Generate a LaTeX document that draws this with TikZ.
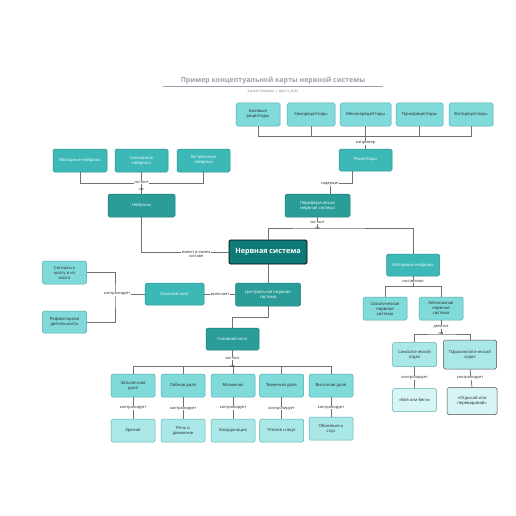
\documentclass[tikz,border=0pt]{standalone}
\usepackage{fontspec}
\setmainfont{Open Sans}
\begin{document}
\begin{tikzpicture}[x=1pt,y=-1pt,
  bx/.style={draw, rounded corners=1.6pt, align=center, inner sep=0.5pt, line width=0.5pt,
     font=\fontsize{4.2}{5}\selectfont},
  dk/.style={bx, fill=cdark, draw=black, text=white, line width=0.9pt, font=\bfseries\fontsize{7.2}{8}\selectfont},
  md2/.style={bx, fill=cmidb, draw=cmidbd, text=white},
  md/.style={bx, fill=cmid, draw=cmidd, text=white},
  lt/.style={bx, fill=clight, draw=clightd, text=black!85},
  pl/.style={bx, fill=cpale, draw=cpaled, text=black!85},
  vp/.style={bx, fill=cvpale, draw=cpaled, text=black!85},
  lbl/.style={fill=white, inner sep=0.4pt, align=center, text=black!85, font=\fontsize{3.9}{4.6}\selectfont},
  lbn/.style={inner sep=0.2pt, text=black!85, font=\fontsize{3.9}{4.6}\selectfont},
  con/.style={draw=linec, line width=0.75pt},
]
\definecolor{cdark}{HTML}{0F7B78}
\definecolor{cmidb}{HTML}{2A9D99}
\definecolor{cmidbd}{HTML}{1E7A77}
\definecolor{cmid}{HTML}{3CB9B7}
\definecolor{cmidd}{HTML}{2A8F8D}
\definecolor{clight}{HTML}{80DADA}
\definecolor{clightd}{HTML}{4CAAAA}
\definecolor{cpale}{HTML}{AAE8E8}
\definecolor{cpaled}{HTML}{5AAFAF}
\definecolor{cvpale}{HTML}{D6F5F5}
\definecolor{linec}{HTML}{707070}
\definecolor{titlec}{HTML}{9CA1AD}

\useasboundingbox (0,0) rectangle (516,516);
\fill[white] (0,0) rectangle (516,516);

% title
\node[font=\bfseries\fontsize{7}{8}\selectfont, text=titlec] (title) at (273,80.5) {Пример концептуальной карты нервной системы};
\draw[titlec, line width=0.6pt] (163,86.5) coordinate (tl) -- (383,86.5) coordinate (tr);
\node[font=\fontsize{3.3}{4}\selectfont, text=black!55] (sub) at (273,91.5) {System Template \ | \ April 3, 2025};

% receptors row
\node[lt, minimum width=44pt, minimum height=23pt] (r1) at (258,114.5) {Болевые\\рецепторы};
\node[lt, minimum width=48pt, minimum height=23pt] (r2) at (311,114.5) {Хеморецепторы};
\node[lt, minimum width=51pt, minimum height=23pt] (r3) at (365.5,114.5) {Механорецепторы};
\node[lt, minimum width=47pt, minimum height=23pt] (r4) at (419.5,114.5) {Терморецепторы};
\node[lt, minimum width=44pt, minimum height=23pt] (r5) at (471,114.5) {Фоторецепторы};
\node[md, minimum width=53pt, minimum height=22pt] (rec) at (365.5,160) {Рецепторы};

\coordinate (rbar) at (365.5,136.5);
\draw[con] (r1.south) |- (rbar);
\draw[con] (r2.south) |- (rbar);
\draw[con] (r4.south) |- (rbar);
\draw[con] (r5.south) |- (rbar);
\draw[con] (r3.south) -- (rec.north);
\node[lbl] (l1) at (365.5,143) {например};

% left neurons row
\node[md, minimum width=54pt, minimum height=23pt] (n1) at (80,160.5) {Моторные нейроны};
\node[md, minimum width=53pt, minimum height=23pt] (n2) at (141.5,160.5) {Сенсорные\\нейроны};
\node[md, minimum width=53pt, minimum height=23pt] (n3) at (203.5,160.5) {Вставочные\\нейроны};
\node[md2, minimum width=67pt, minimum height=23pt] (neur) at (141.5,205.5) {Нейроны};
\coordinate (nbar) at (141.5,183);
\draw[con] (n1.south) |- (nbar);
\draw[con] (n3.south) |- (nbar);
\draw[con] (n2.south) -- (neur.north);
\node[lbl] (l2) at (141.5,182.5) {состоит};
\node[lbn] (l2b) at (141.5,189) {из};

% central node
\node[dk, minimum width=78pt, minimum height=24pt] (ns) at (268,252) {Нервная система};
\draw[con] (neur.south) |- (ns.west);
\node[lbl] (l3) at (196,254.5) {имеют в своем\\составе};

% peripheral
\node[md2, minimum width=65pt, minimum height=23pt] (per) at (317.5,205.5) {Периферическая\\нервная система};
\coordinate (pc1) at (352,171);
\coordinate (pc2) at (330,183);
\draw[con] (pc1) |- (pc2) -- (per.north -| pc2);
\node[lbl] (l4) at (330,184) {содержит};

\node[md, minimum width=53pt, minimum height=22pt] (mn) at (413,265) {Моторные нейроны};
\coordinate (pbar) at (317.5,228);
\draw[con] (ns.north) |- (pbar) -| (mn.north);
\draw[con] (per.south) -- (pbar);
\node[lbl] (l5) at (317.5,222.5) {состоит};
\node[lbn] (l5b) at (317.5,228.5) {из};

% somatic / autonomic
\node[lt, minimum width=44pt, minimum height=23pt] (som) at (385,308.5) {Соматическая\\нервная\\система};
\node[lt, minimum width=44pt, minimum height=23pt] (aut) at (441,308.5) {Автономная\\нервная\\система};
\coordinate (mbar) at (413,286.5);
\draw[con] (mn.south) -- (mbar);
\draw[con] (som.north) |- (mbar) -| (aut.north);
\node[lbl] (l6) at (413,281.5) {составляют};

\node[pl, minimum width=44pt, minimum height=24pt] (sym) at (414.5,354.5) {Симпатический\\отдел};
\node[pl, draw=black!70, minimum width=53pt, minimum height=29pt] (para) at (470,354.5) {Парасимпатический\\отдел};
\coordinate (abar) at (441,334);
\draw[con] (aut.south) -- (abar);
\draw[con] (sym.north) |- (abar) -| (para.north);
\node[lbl] (l7) at (441,327) {делится};
\node[lbn] (l7b) at (441,333) {на};

\node[vp, minimum width=44pt, minimum height=23pt] (fight) at (414.5,400) {«Бей или беги»};
\node[vp, draw=black!70, minimum width=50pt, minimum height=27pt] (rest) at (472,401) {«Отдыхай или\\переваривай»};
\draw[con] (sym.south) -- (fight.north);
\draw[con] (para.south) -- (rest.north);
\node[lbl] (l8) at (414.5,378) {контролирует};
\node[lbl] (l9) at (470,378) {контролирует};

% central nervous system
\node[md2, minimum width=65pt, minimum height=23pt] (cns) at (268,294.5) {Центральная нервная\\система};
\draw[con] (ns.south) -- (cns.north);
\node[md, minimum width=59pt, minimum height=22pt] (sp) at (174.5,294) {Спинной мозг};
\draw[con] (cns.west |- sp.east) -- (sp.east);
\node[lbl] (l10) at (220,294) {включает};

\node[lt, minimum width=44pt, minimum height=23pt] (sig) at (64.5,272.5) {Сигналы к\\мозгу и из\\мозга};
\node[lt, minimum width=44pt, minimum height=22pt] (ref) at (64.5,322) {Рефлекторная\\деятельность};
\coordinate (sbar) at (115,294);
\draw[con] (sp.west) -- (sbar);
\draw[con] (sig.east) -| (sbar) |- (ref.east);
\node[lbl] (l11) at (117,294) {контролирует};

% brain
\node[md2, minimum width=53pt, minimum height=22pt] (br) at (232.5,339) {Головной мозг};
\draw[con] (cns.south) -- ++(0,11) -| (br.north);

\node[lt, minimum width=44pt, minimum height=23pt] (b1) at (133,385.5) {Затылочная\\доля};
\node[lt, minimum width=44pt, minimum height=23pt] (b2) at (183,385.5) {Лобная доля};
\node[lt, minimum width=44pt, minimum height=23pt] (b3) at (233,385.5) {Мозжечок};
\node[lt, minimum width=44pt, minimum height=23pt] (b4) at (281.5,385.5) {Теменная доля};
\node[lt, minimum width=44pt, minimum height=23pt] (b5) at (331,385.5) {Височная доля};
\coordinate (bbar) at (232.5,366.5);
\draw[con] (br.south) -- (bbar);
\draw[con] (b1.north) |- (bbar);
\draw[con] (b5.north) |- (bbar);
\draw[con] (b2.north) -- (b2.north |- bbar);
\draw[con] (b3.north) -- (b3.north |- bbar);
\draw[con] (b4.north) -- (b4.north |- bbar);
\node[lbl] (l12) at (232.5,358.5) {состоит};
\node[lbn] (l12b) at (232.5,366) {из};

\node[pl, minimum width=44pt, minimum height=23pt] (c1) at (133,430.5) {Зрение};
\node[pl, minimum width=44pt, minimum height=23pt] (c2) at (183,430.5) {Речь и\\движение};
\node[pl, minimum width=44pt, minimum height=23pt] (c3) at (233,430.5) {Координация};
\node[pl, minimum width=44pt, minimum height=23pt] (c4) at (281.5,430.5) {Чтение и вкус};
\node[pl, minimum width=44pt, minimum height=23pt] (c5) at (331,428.5) {Обоняние и\\слух};
\foreach \i in {1,...,5} {
  \draw[con] (b\i.south) -- (c\i.north);
}
\node[lbl] (k1) at (133,408) {контролирует};
\node[lbl] (k2) at (183,408.5) {контролирует};
\node[lbl] (k3) at (233,408) {контролирует};
\node[lbl] (k4) at (281.5,408.5) {контролирует};
\node[lbl] (k5) at (331,407.5) {контролирует};
\end{tikzpicture}
\end{document}
